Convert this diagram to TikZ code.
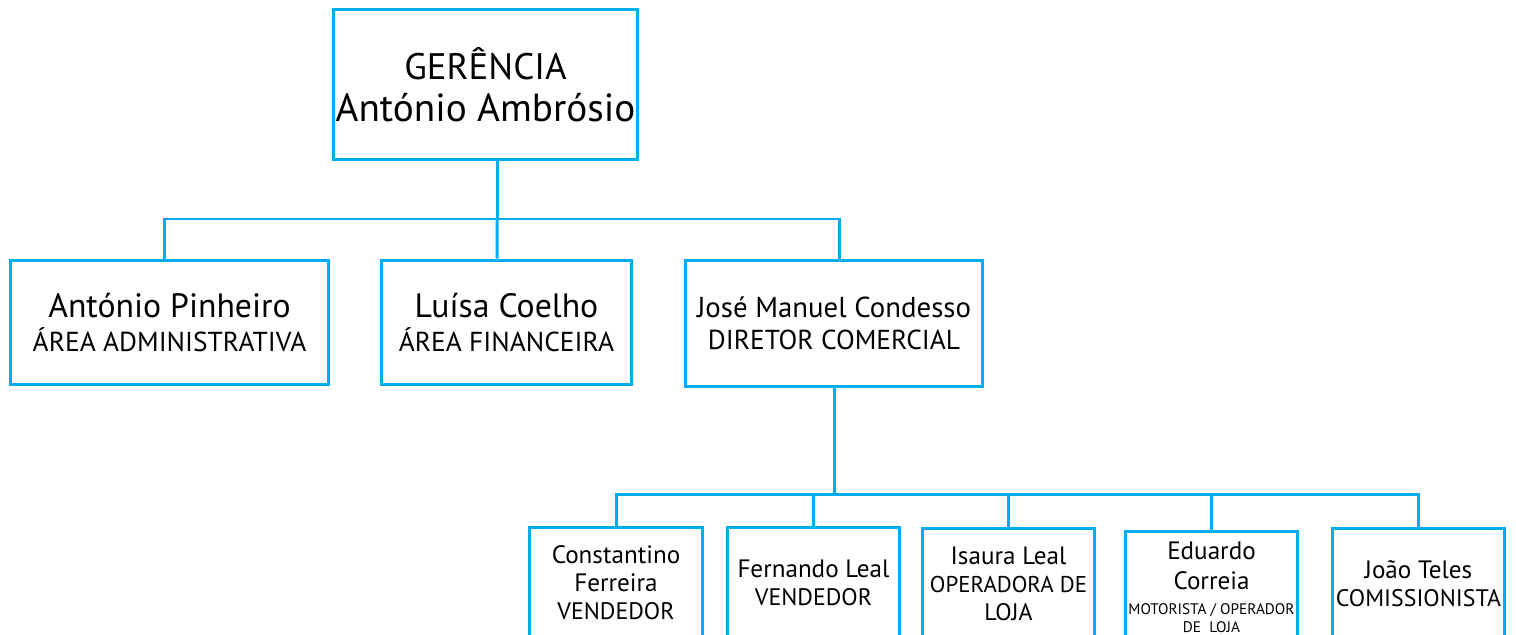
\documentclass[tikz,border=0pt]{standalone}
\usepackage{fontspec}
\setmainfont{PT Sans}
\definecolor{orgblue}{RGB}{0,174,239}
\newcommand\setfs[2]{\fontsize{#1}{#2}\selectfont}

\tikzset{
  box/.style={draw=orgblue, line width=0.06cm, align=center, inner sep=0pt},
  link/.style={draw=orgblue, line width=0.06cm},
  staff/.style={box, minimum width=3.46cm, minimum height=2.24cm, font=\setfs{13.6}{16}},
}
\newcommand\who[1]{{\setfs{14.3}{16}#1}}

\begin{document}
\begin{tikzpicture}[x=0.02cm, y=-0.02cm]
    \useasboundingbox (0,0) rectangle (1516,635);
    \clip (0,0) rectangle (1516,635);

    \node[box, minimum width=6.1cm, minimum height=3.02cm, font=\setfs{22.3}{23.8}] (ger) at (485.5,84.5)
      {{\setfs{21}{23.8}GERÊNCIA}\\António Ambrósio};

    \node[box, minimum width=6.38cm, minimum height=2.5cm, font=\setfs{15.6}{19.8}] (adm) at (169.5,322.5)
      {{\setfs{19.2}{19.8}António Pinheiro}\\ÁREA ADMINISTRATIVA};
    \node[box, minimum width=5.02cm, minimum height=2.5cm, font=\setfs{15.6}{19.8}] (fin) at (506.5,322.5)
      {{\setfs{19.2}{19.8}Luísa Coelho}\\ÁREA FINANCEIRA};
    \node[box, minimum width=5.96cm, minimum height=2.54cm, font=\setfs{15.6}{18}] (com) at (834,323.5)
      {{\setfs{16.4}{18}José Manuel Condesso}\\DIRETOR COMERCIAL};

    \node[staff] (v1) at (616,583)    {\who{Constantino}\\\who{Ferreira}\\VENDEDOR};
    \node[staff] (v2) at (813.5,583)  {\who{Fernando Leal}\\VENDEDOR};
    \node[staff] (v3) at (1008.5,584) {\who{Isaura Leal}\\{\setfs{13}{16}OPERADORA DE}\\LOJA};
    \node[staff, font=\setfs{8.7}{10}] (v4) at (1211.5,587)
      {\who{Eduardo}\\[6pt]\who{Correia}\\[4pt]MOTORISTA / OPERADOR\\DE\ \ LOJA};
    \node[staff] (v5) at (1418.5,584) {\who{João Teles}\\COMISSIONISTA};

    % gerencia -> areas
    \coordinate (bus1) at (497,219);
    \draw[link] (ger.south -| bus1) -- (bus1);
    \draw[link] (bus1) -| ([xshift=-0.11cm]adm.north);
    \draw[link] (bus1) -- ([xshift=-0.19cm]fin.north);
    \draw[link] (bus1) -| ([xshift=0.1cm]com.north);

    % diretor comercial -> equipa
    \coordinate (bus2) at (834,494);
    \draw[link] (com.south) -- (bus2);
    \foreach \v in {v1,v2,v3,v4,v5}
      \draw[link] (bus2) -| (\v.north);
\end{tikzpicture}
\end{document}
